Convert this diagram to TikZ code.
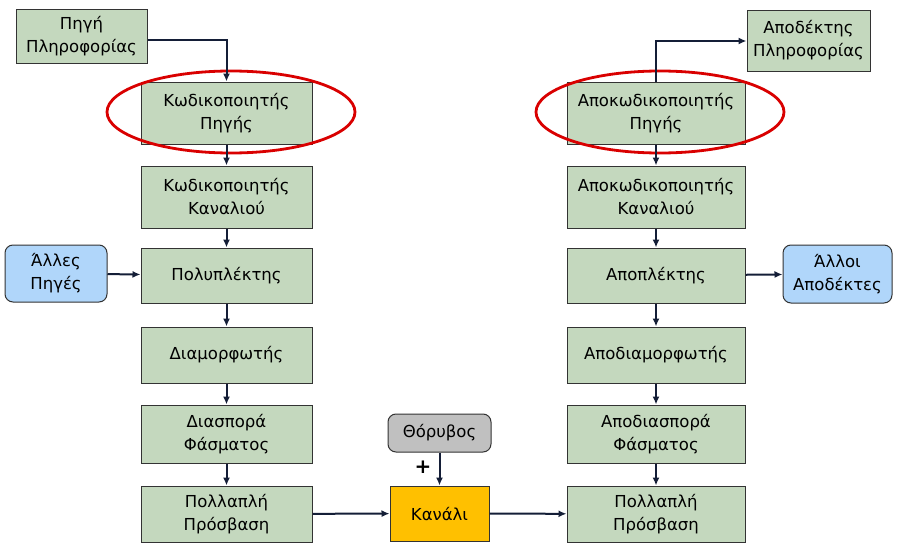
\documentclass[tikz,border=0pt]{standalone}
\usepackage{fontspec}
\setmainfont{DejaVu Sans}
\usetikzlibrary{arrows.meta}
\definecolor{boxgreen}{RGB}{196,216,190}
\definecolor{boxblue}{RGB}{176,214,250}
\definecolor{boxgray}{RGB}{192,192,192}
\definecolor{chan}{RGB}{255,192,0}
\definecolor{arr}{RGB}{20,30,55}
\tikzset{
  blk/.style={draw=black!80, line width=1pt, fill=boxgreen, align=center, inner sep=0pt, font=\fontsize{16.5}{23}\selectfont},
  rblk/.style={blk, rounded corners=8pt},
  conn/.style={draw=arr, line width=2pt, -{Latex[length=8pt,width=7pt]}},
  ring/.style={draw=red!85!black, line width=2.8pt},
}
\begin{document}
\begin{tikzpicture}[x=1pt,y=-1pt]
\useasboundingbox (0,0) rectangle (900,554);
% left column
\node[blk, minimum width=131pt, minimum height=54pt] (src) at (81.5,36) {Πηγή\\Πληροφορίας};
\node[blk, minimum width=171pt, minimum height=62pt] (senc) at (226.5,113) {Κωδικοποιητής\\Πηγής};
\node[blk, minimum width=171pt, minimum height=62pt] (cenc) at (226.5,197) {Κωδικοποιητής\\Καναλιού};
\node[rblk, fill=boxblue, minimum width=102pt, minimum height=57pt] (oth) at (56,273.5) {Άλλες\\Πηγές};
\node[blk, minimum width=171pt, minimum height=55pt] (mux) at (226.5,275.5) {Πολυπλέκτης};
\node[blk, minimum width=171pt, minimum height=56pt] (mod) at (226.5,355) {Διαμορφωτής};
\node[blk, minimum width=171pt, minimum height=58pt] (ss) at (226.5,434) {Διασπορά\\Φάσματος};
\node[blk, minimum width=171pt, minimum height=56pt] (ma) at (226.5,514) {Πολλαπλή\\Πρόσβαση};
% channel
\node[rblk, fill=boxgray, minimum width=103pt, minimum height=38pt] (noise) at (439.5,433) {Θόρυβος};
\node[blk, fill=chan, minimum width=99pt, minimum height=55pt] (ch) at (439.5,513.5) {Κανάλι};
\node[font=\bfseries\fontsize{20}{20}\selectfont] (plus) at (423,467) {+};
% right column
\node[blk, minimum width=123pt, minimum height=61pt] (dst) at (808.5,40.5) {Αποδέκτης\\Πληροφορίας};
\node[blk, minimum width=178pt, minimum height=62pt] (sdec) at (656,113) {Αποκωδικοποιητής\\Πηγής};
\node[blk, minimum width=178pt, minimum height=62pt] (cdec) at (656,197) {Αποκωδικοποιητής\\Καναλιού};
\node[blk, minimum width=178pt, minimum height=55pt] (dmux) at (656,275.5) {Αποπλέκτης};
\node[rblk, fill=boxblue, minimum width=109pt, minimum height=58pt] (othr) at (837.5,274) {Άλλοι\\Αποδέκτες};
\node[blk, minimum width=178pt, minimum height=56pt] (dmod) at (656,355) {Αποδιαμορφωτής};
\node[blk, minimum width=178pt, minimum height=58pt] (dss) at (656,434) {Αποδιασπορά\\Φάσματος};
\node[blk, minimum width=178pt, minimum height=56pt] (dma) at (656,514) {Πολλαπλή\\Πρόσβαση};
% ellipses
\draw[ring] (231,112) ellipse [x radius=124pt, y radius=41pt];
\draw[ring] (660,112) ellipse [x radius=124pt, y radius=41pt];
% connectors
\draw[conn] (src.east |- 0,40) -| (senc.north);
\draw[conn] (senc) -- (cenc);
\draw[conn] (cenc) -- (mux);
\draw[conn] (oth) -- (mux);
\draw[conn] (mux) -- (mod);
\draw[conn] (mod) -- (ss);
\draw[conn] (ss) -- (ma);
\draw[conn] (ma) -- (ch);
\draw[conn] (noise) -- (ch.north -| noise);
\draw[conn] (ch) -- (dma);
\draw[conn] (dss) -- (dma);
\draw[conn] (dmod) -- (dss);
\draw[conn] (dmux) -- (dmod);
\draw[conn] (dmux) -- (othr);
\draw[conn] (cdec) -- (dmux);
\draw[conn] (sdec) -- (cdec);
\draw[conn] (sdec.north) |- (dst.west |- 0,41);
\end{tikzpicture}
\end{document}
